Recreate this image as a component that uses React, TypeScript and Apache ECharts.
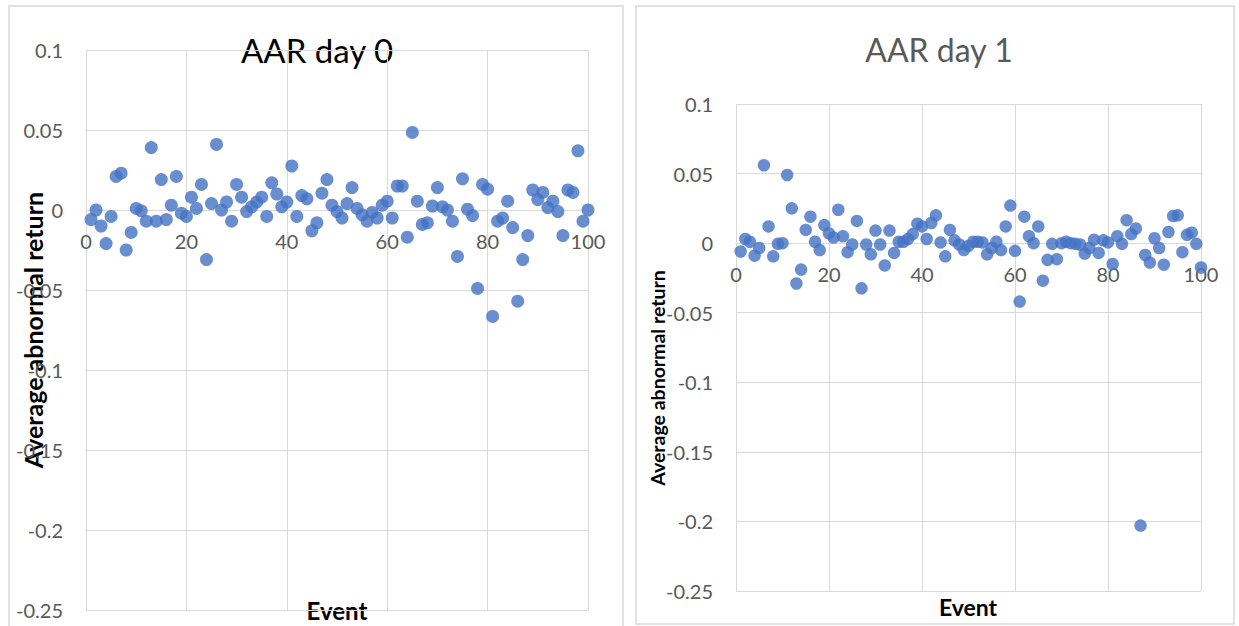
import React, { useEffect, useRef } from "react";
import * as echarts from "echarts";

const events = [
  1, 2, 3, 4, 5, 6, 7, 8, 9, 10, 11, 12, 13, 14, 15, 16, 17, 18, 19, 20,
  21, 22, 23, 24, 25, 26, 27, 28, 29, 30, 31, 32, 33, 34, 35, 36, 37, 38, 39, 40,
  41, 42, 43, 44, 45, 46, 47, 48, 49, 50, 51, 52, 53, 54, 55, 56, 57, 58, 59, 60,
  61, 62, 63, 64, 65, 66, 67, 68, 69, 70, 71, 72, 73, 74, 75, 76, 77, 78, 79, 80,
  81, 82, 83, 84, 85, 86, 87, 88, 89, 90, 91, 92, 93, 94, 95, 96, 97, 98, 99, 100,
];

const aarDay0 = [
  -0.006, 0.0, -0.01, -0.021, -0.004, 0.021, 0.023, -0.025, -0.014, 0.001,
  -0.0005, -0.007, 0.039, -0.007, 0.019, -0.006, 0.003, 0.021, -0.002, -0.004,
  0.008, 0.001, 0.016, -0.031, 0.004, 0.041, 0.0, 0.005, -0.007, 0.016,
  0.008, -0.001, 0.002, 0.005, 0.008, -0.004, 0.017, 0.01, 0.002, 0.005,
  0.0275, -0.004, 0.009, 0.007, -0.013, -0.008, 0.0105, 0.019, 0.003, -0.001,
  -0.005, 0.004, 0.014, 0.001, -0.003, -0.007, -0.0015, -0.005, 0.003, 0.0055,
  -0.005, 0.015, 0.015, -0.017, 0.0485, 0.0055, -0.009, -0.008, 0.0025, 0.014,
  0.002, 0.0, -0.007, -0.029, 0.0195, 0.0005, -0.0035, -0.049, 0.016, 0.013,
  -0.0665, -0.007, -0.005, 0.0055, -0.011, -0.057, -0.031, -0.016, 0.0125, 0.0065,
  0.011, 0.0015, 0.0055, -0.001, -0.016, 0.0125, 0.011, 0.037, -0.007, 0.0,
];

const aarDay1 = [
  -0.006, 0.003, 0.001, -0.009, -0.0035, 0.056, 0.012, -0.0095, -0.0005, 0.0,
  0.049, 0.025, -0.029, -0.019, 0.0095, 0.019, 0.001, -0.005, 0.013, 0.007,
  0.004, 0.024, 0.005, -0.0065, -0.001, 0.016, -0.0325, -0.001, -0.008, 0.009,
  -0.001, -0.016, 0.009, -0.007, 0.001, 0.001, 0.003, 0.0065, 0.014, 0.012,
  0.003, 0.0145, 0.02, 0.0005, -0.0095, 0.0095, 0.002, -0.001, -0.005, -0.002,
  0.001, 0.001, 0.0005, -0.008, -0.0035, 0.001, -0.005, 0.012, 0.027, -0.0055,
  -0.042, 0.019, 0.005, 0.0, 0.012, -0.027, -0.012, -0.0005, -0.0115, 0.0,
  0.001, 0.0, -0.0005, -0.001, -0.0075, -0.0035, 0.0025, -0.007, 0.002, 0.0005,
  -0.015, 0.005, -0.0005, 0.0165, 0.0065, 0.0105, -0.203, -0.0085, -0.014, 0.0035,
  -0.0035, -0.0155, 0.008, 0.0195, 0.02, -0.0065, 0.006, 0.0075, -0.0005, -0.0175,
];

const chartTitles = ["AAR day 0", "AAR day 1"];
const xAxisTitle = "Event";
const yAxisTitle = "Average abnormal return";

const Y_MIN = -0.25;
const Y_MAX = 0.1;

const FONT = "Lato, 'Open Sans', sans-serif";
const GRID_COLOR = "#d9d9d9";
const LABEL_COLOR = "#595959";
const DOT_COLOR = "#4472C4";

const grids = [
  { left: 86, top: 50, width: 502, height: 560 },
  { left: 736, top: 104, width: 465, height: 487 },
];

function makeX(gridIndex: number) {
  // place the horizontal axis where y = 0 crosses the plot (Excel style)
  const h = grids[gridIndex].height;
  const zeroFromBottom = (h * (0 - Y_MIN)) / (Y_MAX - Y_MIN);
  return {
    type: "value",
    gridIndex,
    min: 0,
    max: 100,
    interval: 20,
    position: "bottom",
    offset: -zeroFromBottom,
    axisLine: { show: true, onZero: false, lineStyle: { color: GRID_COLOR, width: 1 } },
    axisTick: { show: false },
    axisLabel: { color: LABEL_COLOR, fontSize: 20, fontFamily: FONT, margin: 21 },
    splitLine: { show: true, lineStyle: { color: GRID_COLOR, width: 1 } },
  };
}

function makeY(gridIndex: number) {
  return {
    type: "value",
    gridIndex,
    min: Y_MIN,
    max: Y_MAX,
    interval: 0.05,
    axisLine: { show: false, onZero: false },
    axisTick: { show: false },
    axisLabel: { color: LABEL_COLOR, fontSize: 20, fontFamily: FONT, margin: 23 },
    splitLine: { show: true, lineStyle: { color: GRID_COLOR, width: 1 } },
  };
}

export default function App() {
  const ref = useRef<HTMLDivElement>(null);

  useEffect(() => {
    document.body.style.margin = "0";
    if (!ref.current) return;
    const chart = echarts.init(ref.current, null, { renderer: "svg" });
    chart.setOption({
      animation: false,
      backgroundColor: "#ffffff",
      grid: grids,
      xAxis: [makeX(0), makeX(1)],
      yAxis: [makeY(0), makeY(1)],
      series: [
        {
          type: "scatter",
          xAxisIndex: 0,
          yAxisIndex: 0,
          symbol: "circle",
          symbolSize: 13,
          itemStyle: { color: DOT_COLOR },
          data: events.map((e, i) => [e, aarDay0[i]]),
        },
        {
          type: "scatter",
          xAxisIndex: 1,
          yAxisIndex: 1,
          symbol: "circle",
          symbolSize: 12.5,
          itemStyle: { color: DOT_COLOR },
          data: events.map((e, i) => [e, aarDay1[i]]),
        },
      ],
      graphic: [
        {
          type: "rect",
          shape: { x: 9, y: 6, width: 614, height: 640 },
          style: { fill: "none", stroke: GRID_COLOR, lineWidth: 1.5 },
          silent: true,
          z: -10,
        },
        {
          type: "rect",
          shape: { x: 636, y: 6, width: 598, height: 618 },
          style: { fill: "none", stroke: GRID_COLOR, lineWidth: 1.5 },
          silent: true,
          z: -10,
        },
        {
          type: "text",
          x: 317,
          y: 50,
          style: {
            text: chartTitles[0],
            fill: "#000000",
            font: `33px ${FONT}`,
            align: "center",
            verticalAlign: "middle",
          },
        },
        {
          type: "text",
          x: 939,
          y: 49,
          style: {
            text: chartTitles[1],
            fill: LABEL_COLOR,
            font: `32px ${FONT}`,
            align: "center",
            verticalAlign: "middle",
          },
        },
        {
          type: "text",
          x: 337,
          y: 610,
          style: {
            text: xAxisTitle,
            fill: "#000000",
            font: `bold 24px ${FONT}`,
            align: "center",
            verticalAlign: "middle",
          },
        },
        {
          type: "text",
          x: 968,
          y: 607,
          style: {
            text: xAxisTitle,
            fill: "#000000",
            font: `bold 23px ${FONT}`,
            align: "center",
            verticalAlign: "middle",
          },
        },
        {
          type: "text",
          x: 33,
          y: 330,
          rotation: Math.PI / 2,
          style: {
            text: yAxisTitle,
            fill: "#000000",
            font: `bold 25px ${FONT}`,
            align: "center",
            verticalAlign: "middle",
          },
        },
        {
          type: "text",
          x: 657,
          y: 378,
          rotation: Math.PI / 2,
          style: {
            text: yAxisTitle,
            fill: "#000000",
            font: `bold 19.5px ${FONT}`,
            align: "center",
            verticalAlign: "middle",
          },
        },
      ],
    });
    return () => chart.dispose();
  }, []);

  return <div ref={ref} style={{ width: 1239, height: 626 }} />;
}
